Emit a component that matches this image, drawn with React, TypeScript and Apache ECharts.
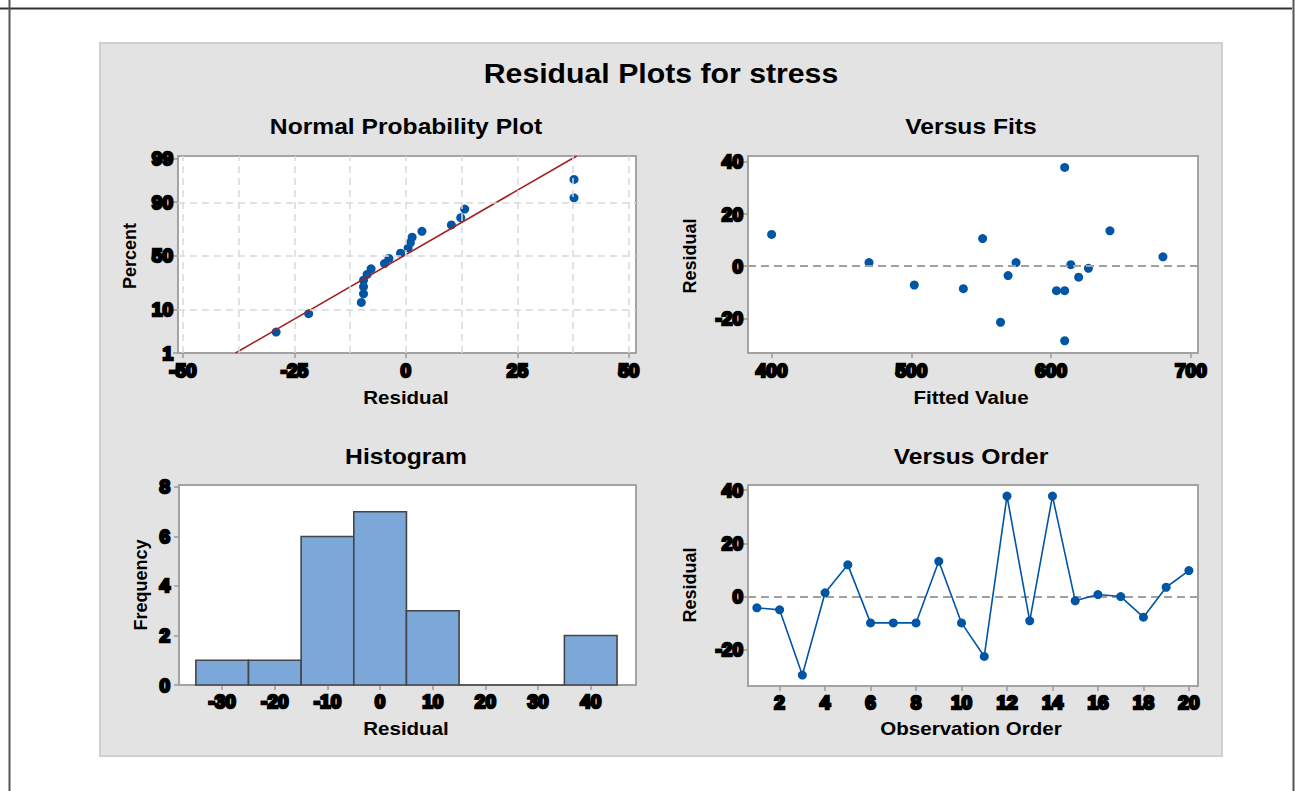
import React, { useEffect, useRef } from "react";
import * as echarts from "echarts";

// ---------- texts ----------
const mainTitle = "Residual Plots for stress";
const panelTitles = ["Normal Probability Plot", "Versus Fits", "Histogram", "Versus Order"];
const axisNames = {
  nppX: "Residual",
  nppY: "Percent",
  fitsX: "Fitted Value",
  fitsY: "Residual",
  histX: "Residual",
  histY: "Frequency",
  orderX: "Observation Order",
  orderY: "Residual",
};

// ---------- Normal probability plot ----------
const nppResiduals = [-29.1, -21.8, -10.0, -9.5, -9.5, -9.5, -8.7, -7.8, -4.8, -3.8, -1.2, 0.5, 1.0, 1.4, 3.6, 10.2, 12.3, 13.2, 37.7, 37.7];
const nppPercents = [3.4, 8.3, 13.2, 18.1, 23.0, 27.9, 32.8, 37.7, 42.6, 47.5, 52.5, 57.4, 62.3, 67.2, 72.1, 77.0, 81.9, 86.8, 91.7, 96.6];
const nppFitLineResiduals = [-38.2, 38.3];
const nppFitLinePercents = [1, 99.15];
const nppPercentTicks = [1, 10, 50, 90, 99];
const nppPercentGrid = [10, 50, 90];
const nppResidualTicks = [-50, -25, 0, 25, 50];
const nppResidualGrid = [-50, -37.5, -25, -12.5, 0, 12.5, 25, 37.5, 50];

// ---------- Versus fits ----------
const fittedValues = [400.0, 469.7, 502.1, 537.2, 551.0, 563.8, 569.2, 574.9, 603.8, 609.7, 609.7, 609.7, 614.1, 619.7, 626.7, 642.1, 680.0];
const fitResiduals = [12.2, 1.4, -7.2, -8.6, 10.6, -21.5, -3.6, 1.4, -9.4, -9.4, 37.9, -28.6, 0.6, -4.2, -0.8, 13.6, 3.6];
const fittedTicks = [400, 500, 600, 700];
const residualTicks = [-20, 0, 20, 40];

// ---------- Histogram ----------
const histBinCenters = [-30, -20, -10, 0, 10, 20, 30, 40];
const histFrequencies = [1, 1, 6, 7, 3, 0, 0, 2];
const histBinWidth = 10;
const histYTicks = [0, 2, 4, 6, 8];

// ---------- Versus order ----------
const observationOrder = [1, 2, 3, 4, 5, 6, 7, 8, 9, 10, 11, 12, 13, 14, 15, 16, 17, 18, 19, 20];
const orderResiduals = [-4.25, -5.0, -29.5, 1.4, 11.9, -9.9, -9.9, -9.9, 13.25, -9.9, -22.5, 37.75, -9.1, 37.75, -1.6, 0.75, 0, -7.75, 3.5, 9.75];
const orderTicks = [2, 4, 6, 8, 10, 12, 14, 16, 18, 20];

// inverse standard normal CDF (probability-scale transform)
function probit(p: number): number {
  const a = [-3.969683028665376e1, 2.209460984245205e2, -2.759285104469687e2, 1.38357751867269e2, -3.066479806614716e1, 2.506628277459239];
  const b = [-5.447609879822406e1, 1.615858368580409e2, -1.556989798598866e2, 6.680131188771972e1, -1.328068155288572e1];
  const c = [-7.784894002430293e-3, -3.223964580411365e-1, -2.400758277161838, -2.549671010243609, 4.374664141464968, 2.938163982698783];
  const d = [7.784695709041462e-3, 3.224671290700398e-1, 2.445134137142996, 3.754408661907416];
  const plow = 0.02425;
  if (p < plow) {
    const q = Math.sqrt(-2 * Math.log(p));
    return (((((c[0] * q + c[1]) * q + c[2]) * q + c[3]) * q + c[4]) * q + c[5]) / ((((d[0] * q + d[1]) * q + d[2]) * q + d[3]) * q + 1);
  }
  if (p > 1 - plow) {
    const q = Math.sqrt(-2 * Math.log(1 - p));
    return -(((((c[0] * q + c[1]) * q + c[2]) * q + c[3]) * q + c[4]) * q + c[5]) / ((((d[0] * q + d[1]) * q + d[2]) * q + d[3]) * q + 1);
  }
  const q = p - 0.5;
  const r = q * q;
  return ((((((a[0] * r + a[1]) * r + a[2]) * r + a[3]) * r + a[4]) * r + a[5]) * q) / (((((b[0] * r + b[1]) * r + b[2]) * r + b[3]) * r + b[4]) * r + 1);
}
const zOf = (pct: number) => probit(pct / 100);

const FONT = '"Liberation Sans", Arial, sans-serif';
const BLUE = "#0055a5";
const tickLabel = {
  color: "#000",
  fontFamily: FONT,
  fontWeight: "bold" as const,
  fontSize: 19,
  textBorderColor: "#000",
  textBorderWidth: 2.5,
};

function axis(gridIndex: number, min: number, max: number, ticks: number[], margin: number, formatter?: (v: number) => string) {
  return {
    type: "value",
    gridIndex,
    min,
    max,
    axisLine: { show: false, onZero: false },
    axisTick: { show: true, customValues: ticks, length: 5, lineStyle: { color: "#9a9a9a", width: 1.5 } },
    axisLabel: { show: true, customValues: ticks, margin, ...tickLabel, formatter: formatter || ((v: number) => String(v)) },
    splitLine: { show: false },
  };
}

function buildOption() {
  const gridStyle = { show: true, backgroundColor: "#ffffff", borderColor: "#a3a3a3", borderWidth: 2, containLabel: false };
  const grids = [
    { left: 178, top: 156, width: 458, height: 197, ...gridStyle },
    { left: 748, top: 156, width: 450, height: 197, ...gridStyle },
    { left: 179, top: 485, width: 457, height: 200, ...gridStyle },
    { left: 748, top: 485, width: 450, height: 201, ...gridStyle },
  ];

  const zTicks = nppPercentTicks.map(zOf);
  const pctFormatter = (v: number) => {
    let best = 0;
    zTicks.forEach((z, i) => {
      if (Math.abs(z - v) < Math.abs(zTicks[best] - v)) best = i;
    });
    return String(nppPercentTicks[best]);
  };

  const xAxes = [
    axis(0, -51.1, 51.6, nppResidualTicks, 8),
    axis(1, 383.1, 705.1, fittedTicks, 8),
    axis(2, -38.2, 48.6, histBinCenters, 7),
    axis(3, 0.61, 20.4, orderTicks, 7),
  ];
  const yAxes = [
    axis(0, zOf(1), zOf(99.15), zTicks, 5, pctFormatter),
    axis(1, -33.3, 42.3, residualTicks, 5),
    axis(2, 0, 8.08, histYTicks, 9),
    axis(3, -33.6, 41.9, residualTicks, 5),
  ];

  const gridDash = { type: [7, 5], color: "#d9d9d9", width: 1.5 };
  const zeroDash = { type: [8, 5], color: "#a0a0a0", width: 2 };

  const series: any[] = [
    {
      type: "line",
      xAxisIndex: 0,
      yAxisIndex: 0,
      data: [],
      markLine: {
        silent: true,
        symbol: ["none", "none"],
        label: { show: false },
        lineStyle: gridDash,
        data: [
          ...nppResidualGrid.map((v) => ({ xAxis: v })),
          ...nppPercentGrid.map((p) => ({ yAxis: zOf(p) })),
        ],
      },
    },
    {
      type: "line",
      xAxisIndex: 0,
      yAxisIndex: 0,
      data: nppFitLineResiduals.map((r, i) => [r, zOf(nppFitLinePercents[i])]),
      symbol: "none",
      lineStyle: { color: "#a3201f", width: 1.6 },
    },
    {
      type: "scatter",
      xAxisIndex: 0,
      yAxisIndex: 0,
      data: nppResiduals.map((r, i) => [r, zOf(nppPercents[i])]),
      symbolSize: 9,
      itemStyle: { color: BLUE, opacity: 1 },
    },
    {
      type: "scatter",
      xAxisIndex: 1,
      yAxisIndex: 1,
      data: fittedValues.map((f, i) => [f, fitResiduals[i]]),
      symbolSize: 9,
      itemStyle: { color: BLUE, opacity: 1 },
      markLine: {
        silent: true,
        symbol: ["none", "none"],
        label: { show: false },
        lineStyle: zeroDash,
        data: [{ yAxis: 0 }],
      },
    },
    {
      type: "custom",
      xAxisIndex: 2,
      yAxisIndex: 2,
      data: histBinCenters.map((c, i) => [c, histFrequencies[i]]),
      encode: { x: 0, y: 1 },
      renderItem: (params: any, api: any) => {
        const c = api.value(0);
        const f = api.value(1);
        const p0 = api.coord([c - histBinWidth / 2, f]);
        const p1 = api.coord([c + histBinWidth / 2, 0]);
        return {
          type: "rect",
          shape: { x: p0[0], y: p0[1], width: p1[0] - p0[0], height: p1[1] - p0[1] },
          style: { fill: "#7ca7d9", stroke: "#454545", lineWidth: 1.6 },
        };
      },
    },
    {
      type: "line",
      xAxisIndex: 3,
      yAxisIndex: 3,
      data: observationOrder.map((o, i) => [o, orderResiduals[i]]),
      symbol: "circle",
      symbolSize: 9,
      showSymbol: true,
      lineStyle: { color: BLUE, width: 1.6 },
      itemStyle: { color: BLUE, opacity: 1 },
      markLine: {
        silent: true,
        symbol: ["none", "none"],
        label: { show: false },
        lineStyle: zeroDash,
        data: [{ yAxis: 0 }],
        z: 1,
      },
    },
  ];

  const text = (t: string, x: number, y: number, size: number, sx: number, rotate = false) => ({
    type: "text",
    x,
    y,
    scaleX: rotate ? 1 : sx,
    rotation: rotate ? Math.PI / 2 : 0,
    style: {
      text: t,
      fill: "#000",
      font: `bold ${size}px ${FONT}`,
      align: "center",
      verticalAlign: "middle",
    },
    z: 10,
  });

  const graphic = [
    { type: "rect", shape: { x: 100, y: 43, width: 1122, height: 713 }, style: { fill: "#e3e3e3", stroke: "#cfcfcf", lineWidth: 2 }, z: -10 },
    { type: "line", shape: { x1: 0, y1: 8.5, x2: 1292, y2: 8.5 }, style: { stroke: "#333333", lineWidth: 2 }, z: -5 },
    { type: "line", shape: { x1: 9.5, y1: 0, x2: 9.5, y2: 791 }, style: { stroke: "#555555", lineWidth: 2 }, z: -5 },
    { type: "line", shape: { x1: 1293.5, y1: 0, x2: 1293.5, y2: 791 }, style: { stroke: "#555555", lineWidth: 2 }, z: -5 },
    text(mainTitle, 661, 74, 27, 1.12),
    text(panelTitles[0], 406, 126, 22, 1.12),
    text(panelTitles[1], 971, 126, 22, 1.12),
    text(panelTitles[2], 406, 456, 22, 1.12),
    text(panelTitles[3], 971, 456, 22, 1.12),
    text(axisNames.nppX, 406, 398, 18, 1.14),
    text(axisNames.nppY, 130, 256, 18, 1, true),
    text(axisNames.fitsX, 971, 398, 18, 1.14),
    text(axisNames.fitsY, 690, 256, 18, 1, true),
    text(axisNames.histX, 406, 729, 18, 1.14),
    text(axisNames.histY, 141, 585, 18, 1, true),
    text(axisNames.orderX, 971, 729, 18, 1.14),
    text(axisNames.orderY, 690, 585, 18, 1, true),
  ];

  return {
    animation: false,
    backgroundColor: "#ffffff",
    grid: grids,
    xAxis: xAxes,
    yAxis: yAxes,
    series,
    graphic,
  };
}

export default function App() {
  const ref = useRef<HTMLDivElement>(null);
  useEffect(() => {
    if (!ref.current) return;
    const chart = echarts.init(ref.current, null, { renderer: "svg" });
    chart.setOption(buildOption() as any);
    return () => chart.dispose();
  }, []);
  return (
    <div
      ref={ref}
      style={{ position: "absolute", left: 0, top: 0, width: 1295, height: 791, background: "#fff" }}
    />
  );
}
